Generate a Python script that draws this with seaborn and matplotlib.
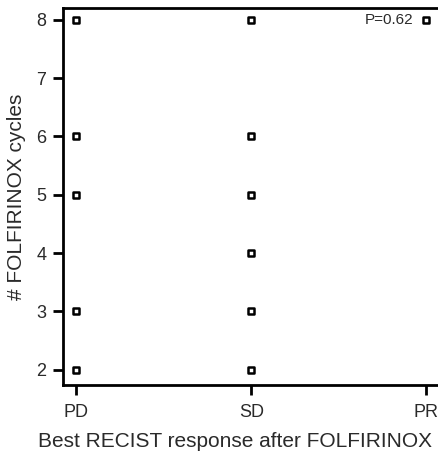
import matplotlib
matplotlib.use("Agg")
import matplotlib.pyplot as plt
import seaborn as sns
import pandas as pd

categories = ["PD", "SD", "PR"]
pd_cycles = [8, 6, 5, 3, 2]
sd_cycles = [8, 6, 5, 4, 3, 2]
pr_cycles = [8]
p_text = "P=0.62"

rows = []
for cat, vals in zip(categories, [pd_cycles, sd_cycles, pr_cycles]):
    for v in vals:
        rows.append({"response": categories.index(cat), "cycles": v})
df = pd.DataFrame(rows)

sns.set_style("ticks")
plt.rcParams['font.family'] = ['Liberation Sans', 'DejaVu Sans']

fig = plt.figure(figsize=(4.38, 4.51), dpi=100)
ax = fig.add_axes([63/438, 66/451, 381/438, 377/451])
sns.scatterplot(data=df, x="response", y="cycles", ax=ax, marker="s", s=15,
                facecolor="white", edgecolor="black", linewidth=1.8, zorder=3)

ax.set_xlim(-0.074, 2.1)
ax.set_ylim(1.74, 8.2)
ax.set_xticks(range(len(categories)))
ax.set_xticklabels(categories)
ax.set_yticks([2, 3, 4, 5, 6, 7, 8])
ax.tick_params(axis="both", direction="out", length=7, width=2, labelsize=13,
               colors="black", labelcolor="#2a2a2a")
ax.tick_params(axis="x", pad=7)
ax.tick_params(axis="y", pad=5)
for side in ["left", "bottom", "top"]:
    ax.spines[side].set_linewidth(2)
    ax.spines[side].set_color("black")
ax.spines["right"].set_visible(False)
ax.set_xlabel("Best RECIST response after FOLFIRINOX", fontsize=15, color="#2a2a2a")
ax.xaxis.set_label_coords((235 - 63) / 381, -0.125)
ax.set_ylabel("# FOLFIRINOX cycles", fontsize=15, color="#2a2a2a", labelpad=7)
ax.text(1.925, 8, p_text, ha="right", va="center", fontsize=11, color="#2a2a2a")

fig.savefig("out.png", dpi=100)
